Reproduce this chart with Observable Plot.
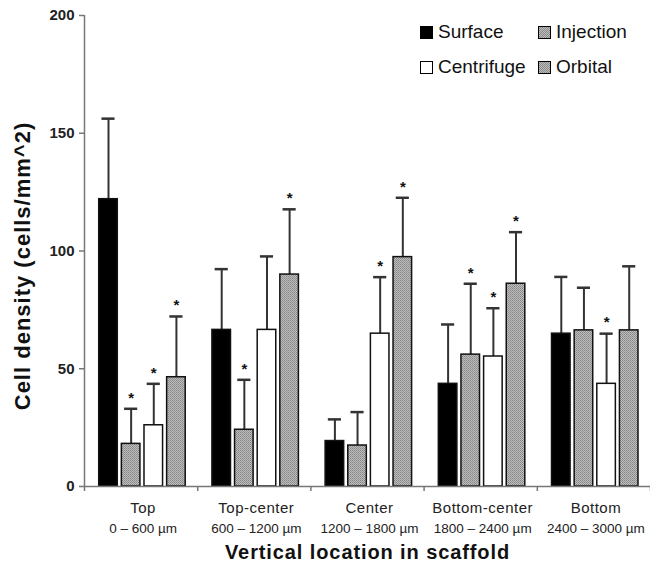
<!DOCTYPE html>
<html><head><meta charset="utf-8">
<script src="https://cdn.jsdelivr.net/npm/d3@7"></script>
<script src="https://cdn.jsdelivr.net/npm/@observablehq/plot@0.6"></script>
<style>
body{margin:0;background:#fff;}
#wrap{position:relative;width:650px;height:565px;font-family:"Liberation Sans",Arial,sans-serif;}
.leg{position:absolute;display:flex;align-items:center;font-size:19px;line-height:22px;color:#111;}
.sw{width:11px;height:11px;border:1px solid #000;margin-right:5px;box-sizing:content-box;}
</style></head><body><div id="wrap"></div>
<script>
// ---- data ----
const groups = ["Top", "Top-center", "Center", "Bottom-center", "Bottom"];
const ranges = ["0 – 600 µm", "600 – 1200 µm", "1200 – 1800 µm", "1800 – 2400 µm", "2400 – 3000 µm"];
const series = ["Surface", "Injection", "Centrifuge", "Orbital"];
const surfaceMean = [122, 66.5, 19.3, 43.6, 64.9];
const surfaceSD = [34.2, 25.8, 9.2, 25.2, 24.1];
const injectionMean = [18.1, 24.1, 17.4, 56, 66.3];
const injectionSD = [14.9, 21.2, 14.2, 30.1, 18.1];
const centrifugeMean = [26, 66.5, 64.9, 55.2, 43.6];
const centrifugeSD = [17.6, 31.2, 24, 20.5, 21.3];
const orbitalMean = [46.4, 90, 97.4, 86.1, 66.3];
const orbitalSD = [25.8, 27.7, 25.2, 21.9, 27.2];
const surfaceSig = [false, false, false, false, false];
const injectionSig = [true, true, false, true, false];
const centrifugeSig = [true, false, true, true, true];
const orbitalSig = [true, true, true, true, false];
const yTicks = [0, 50, 100, 150, 200];
const yTitle = "Cell density (cells/mm^2)";
const xTitle = "Vertical location in scaffold";

const means = [surfaceMean, injectionMean, centrifugeMean, orbitalMean];
const sds = [surfaceSD, injectionSD, centrifugeSD, orbitalSD];
const sigs = [surfaceSig, injectionSig, centrifugeSig, orbitalSig];
const rows = [];
groups.forEach((g, gi) => series.forEach((s, si) => rows.push({
  group: g, gi, series: s, si, mean: means[si][gi], sd: sds[si][gi], sig: sigs[si][gi]
})));

// layout within each group (in group units)
const off = 0.13, step = 0.2, bw = 0.164, cap = 0.058;
const x1 = d => d.gi + off + d.si * step;
const x2 = d => x1(d) + bw;
const xc = d => x1(d) + bw / 2;
const HATCH = "#a5a5a6";
const fills = ["#000000", HATCH, "#ffffff", HATCH];

const bars = series.map((s, si) => Plot.rectY(rows.filter(d => d.si === si), {
  x1, x2, y1: 0, y2: "mean", fill: fills[si], stroke: "#111", strokeWidth: 1.5
}));

const chart = Plot.plot({
  width: 650, height: 565,
  marginLeft: 84, marginRight: 0, marginTop: 15, marginBottom: 79,
  style: {fontFamily: "'Liberation Sans', Arial, sans-serif", background: "#fff"},
  x: {domain: [0, 5]},
  y: {domain: [0, 200]},
  marks: [
    Plot.ruleX(rows, {x: xc, y1: "mean", y2: d => d.mean + d.sd, stroke: "#333", strokeWidth: 2}),
    ...bars,
    Plot.ruleY(rows, {y: d => d.mean + d.sd, x1: d => xc(d) - cap, x2: d => xc(d) + cap, stroke: "#333", strokeWidth: 2.5}),
    Plot.text(rows.filter(d => d.sig), {x: xc, y: d => d.mean + d.sd, text: () => "*", dy: -11, fontSize: 15, fontWeight: "bold", fill: "#111"}),
    Plot.ruleX([0], {y1: 0, y2: 200, stroke: "#777", strokeWidth: 1.5}),
    Plot.ruleY([0], {stroke: "#777", strokeWidth: 1.5}),
    Plot.axisY({ticks: yTicks, tickSize: 5, tickPadding: 5, stroke: "#777", strokeWidth: 1.5, fill: "#222", fontSize: 15, fontWeight: "bold", label: null}),
    Plot.axisX({ticks: [0, 1, 2, 3, 4, 5], tickSize: 5, tickFormat: () => "", stroke: "#777", strokeWidth: 1.5, label: null}),
    Plot.text(groups, {x: (d, i) => i + 0.5, y: 0, dx: 2, dy: 22, text: d => d, fontSize: 15, fill: "#222"}),
    Plot.text(ranges, {x: (d, i) => i + 0.5, y: 0, dx: 2, dy: 42, text: d => d, fontSize: 13.5, fill: "#222"}),
    Plot.text([xTitle], {frameAnchor: "bottom", lineAnchor: "middle", textAnchor: "middle", dy: 66, text: d => d, fontSize: 20, fontWeight: "bold", fill: "#111"}),
    Plot.text([yTitle], {frameAnchor: "left", lineAnchor: "middle", textAnchor: "middle", rotate: -90, dx: -62, dy: 15, text: d => d, fontSize: 22, fontWeight: "bold", fill: "#111"})
  ]
});

// hatch pattern for Injection / Orbital
const svg = d3.select(chart);
const defs = svg.insert("defs", ":first-child");
const pat = defs.append("pattern").attr("id", "hatch").attr("patternUnits", "userSpaceOnUse")
  .attr("width", 2).attr("height", 2);
pat.append("rect").attr("width", 2).attr("height", 2).attr("fill", "#bdbdbd");
pat.append("rect").attr("width", 1).attr("height", 1).attr("fill", "#858585");
pat.append("rect").attr("x", 1).attr("y", 1).attr("width", 1).attr("height", 1).attr("fill", "#959595");
chart.querySelectorAll(`[fill="${HATCH}"]`).forEach(el => el.setAttribute("fill", "url(#hatch)"));

// letter spacing to match the reference's wide typesetting
chart.querySelectorAll("text").forEach(t => {
  const s = t.textContent;
  if (s === yTitle) t.style.letterSpacing = "1px";
  else if (s === xTitle) t.style.letterSpacing = "0.9px";
  else if (groups.includes(s)) t.style.letterSpacing = "0.5px";
});

const wrap = document.getElementById("wrap");
wrap.appendChild(chart);

// legend
const legPos = [[420, 21], [538, 21], [420, 56], [538, 56]];
const legOrder = ["Surface", "Injection", "Centrifuge", "Orbital"];
legOrder.forEach((s, k) => {
  const si = series.indexOf(s);
  const item = document.createElement("div");
  item.className = "leg";
  item.style.left = legPos[k][0] + "px";
  item.style.top = legPos[k][1] + "px";
  const sw = document.createElement("div");
  sw.className = "sw";
  sw.style.background = fills[si] === HATCH
    ? "repeating-conic-gradient(#8a8a8a 0 25%, #bdbdbd 0 50%) 0 0/2px 2px" : fills[si];
  const t = document.createElement("span");
  t.textContent = s;
  item.appendChild(sw); item.appendChild(t);
  wrap.appendChild(item);
});
</script>
</body></html>
